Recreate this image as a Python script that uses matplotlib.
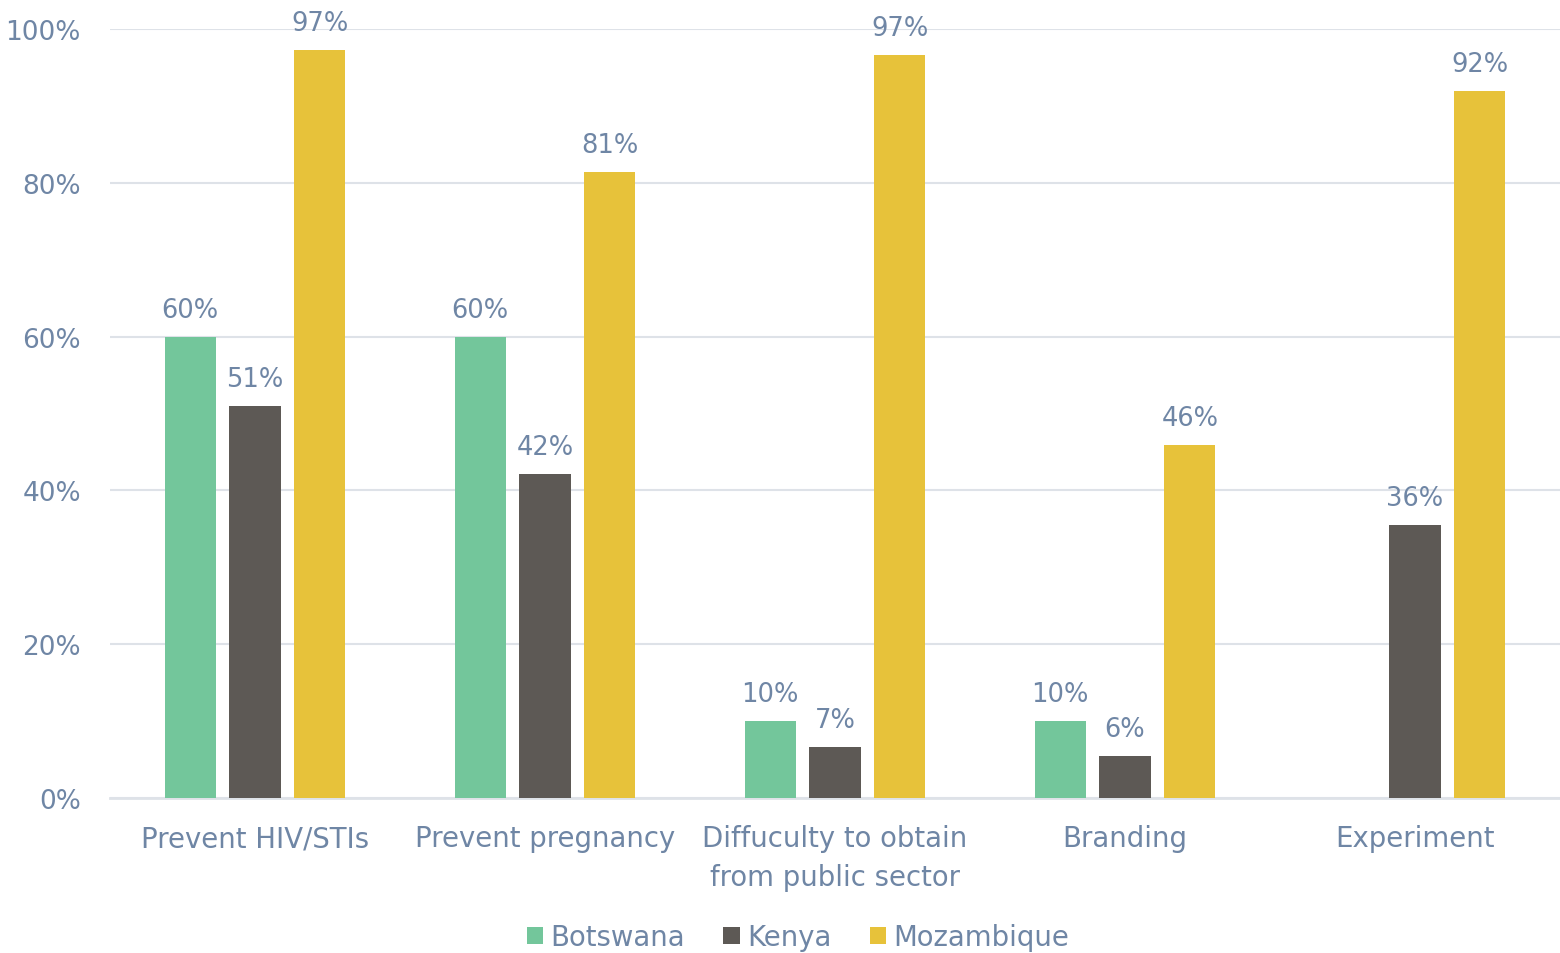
import matplotlib
matplotlib.use("Agg")
import matplotlib.pyplot as plt
import numpy as np

categories = ["Prevent HIV/STIs", "Prevent pregnancy",
              "Diffuculty to obtain\nfrom public sector", "Branding", "Experiment"]
botswana = [60.0, 60.0, 10.0, 10.0, np.nan]
kenya = [51.0, 42.1, 6.6, 5.5, 35.5]
mozambique = [97.3, 81.4, 96.6, 45.9, 91.9]
series_names = ["Botswana", "Kenya", "Mozambique"]
yticks = [0, 20, 40, 60, 80, 100]

colors = ["#73C69B", "#5D5955", "#E7C23A"]
text_color = "#6F86A5"
grid_color = "#DEE2E8"
fs_values = 18.5
fs_labels = 19.8

plt.rcParams["font.family"] = ["DejaVu Sans"]

fig = plt.figure(figsize=(15.6, 9.54), dpi=100)
ax = fig.add_axes([110 / 1560, 1 - 799 / 954, 1450 / 1560, 769 / 954])

x = np.arange(len(categories))
width = 0.176
offset = 0.224
for i, (vals, name, c) in enumerate(zip([botswana, kenya, mozambique], series_names, colors)):
    xs = x + (i - 1) * offset
    ax.bar(xs, vals, width=width, color=c, label=name, zorder=3)
    for xi, v in zip(xs, vals):
        if np.isnan(v):
            continue
        ax.text(xi, v + 1.8, f"{v:.0f}%", ha="center", va="bottom",
                fontsize=fs_values, color=text_color, zorder=4, clip_on=False)

ax.set_xlim(-0.5, len(categories) - 0.5)
ax.set_ylim(0, 100)
ax.set_yticks(yticks)
ax.set_yticklabels([f"{t}%" for t in yticks], fontsize=19)
ax.set_xticks(x)
ax.set_xticklabels(categories, linespacing=1.5, fontsize=fs_labels)
ax.tick_params(axis="both", length=0, colors=text_color)
ax.tick_params(axis="x", pad=19)
ax.tick_params(axis="y", pad=21)

ax.grid(axis="y", color=grid_color, linewidth=1.5, zorder=0)
for side in ["top", "right", "left"]:
    ax.spines[side].set_visible(False)
ax.spines["bottom"].set_color(grid_color)
ax.spines["bottom"].set_linewidth(2)
ax.set_axisbelow(True)

leg = fig.legend(loc="center", bbox_to_anchor=(798 / 1560, 1 - 938 / 954), ncol=3,
                 frameon=False, fontsize=fs_labels, handlelength=0.6, handleheight=0.6,
                 handletextpad=0.25, columnspacing=1.4)
for t in leg.get_texts():
    t.set_color(text_color)

fig.savefig("out.png", dpi=100, facecolor="white")
